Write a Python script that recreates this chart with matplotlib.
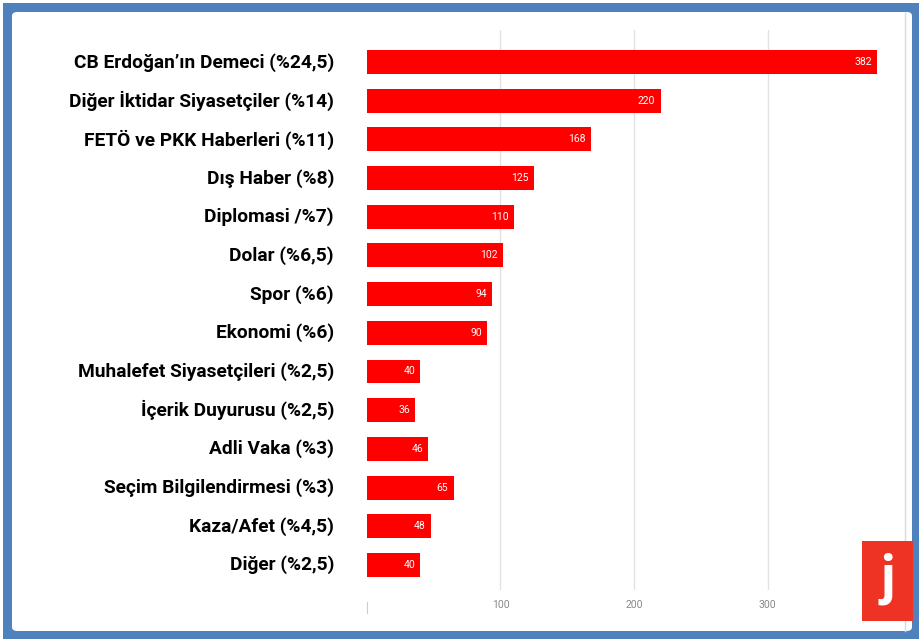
import matplotlib
matplotlib.use("Agg")
import matplotlib.pyplot as plt
from matplotlib.patches import Rectangle, FancyBboxPatch

categories = [
    "CB Erdoğan’ın Demeci (%24,5)",
    "Diğer İktidar Siyasetçiler (%14)",
    "FETÖ ve PKK Haberleri (%11)",
    "Dış Haber (%8)",
    "Diplomasi /%7)",
    "Dolar (%6,5)",
    "Spor (%6)",
    "Ekonomi (%6)",
    "Muhalefet Siyasetçileri (%2,5)",
    "İçerik Duyurusu (%2,5)",
    "Adli Vaka (%3)",
    "Seçim Bilgilendirmesi (%3)",
    "Kaza/Afet (%4,5)",
    "Diğer (%2,5)",
]
values = [382, 220, 168, 125, 110, 102, 94, 90, 40, 36, 46, 65, 48, 40]
xticks = [0, 100, 200, 300]
xtick_labels = ["", "100", "200", "300"]

W, H = 920, 639
fig = plt.figure(figsize=(W / 100, H / 100), dpi=100)
fig.patch.set_facecolor("white")

def fx(px):
    return px / W

def fy(py):
    return 1 - py / H

# blue frame with white rounded panel
frame_blue = "#4f81bd"
fig.patches.append(Rectangle((fx(3), fy(639)), fx(917), 636 / H,
                             transform=fig.transFigure, facecolor=frame_blue,
                             edgecolor="none", zorder=0))
fig.patches.append(FancyBboxPatch((fx(12), fy(631)), fx(900), 619 / H,
                                  boxstyle="round,pad=0,rounding_size=0.006",
                                  transform=fig.transFigure, facecolor="white",
                                  edgecolor="none", zorder=1))
# right edge line of the chart panel
fig.lines.append(plt.Line2D([fx(905), fx(905)], [fy(631), fy(12)],
                            transform=fig.transFigure, color="#d6dbe3", lw=1, zorder=2))

ax_left, ax_right = 367, 901
ax_top, ax_bottom = 30, 590
ax = fig.add_axes([fx(ax_left), fy(ax_bottom), (ax_right - ax_left) / W,
                   (ax_bottom - ax_top) / H])
ax.set_facecolor("none")
ax.set_zorder(3)

n = len(categories)
ypos = list(range(n))
bar_color = "#ff0000"
ax.barh(ypos, values, height=0.62, color=bar_color, edgecolor="none", zorder=3)
ax.set_xlim(0, 400)
ax.set_ylim(13.65, -0.83)

for x in xticks[1:]:
    ax.axvline(x, color="#e2e2e2", lw=1, zorder=1)

label_font = ["Roboto", "DejaVu Sans"]
for y, v in zip(ypos, values):
    ax.text(v - 4, y, str(v), ha="right", va="center", color="white",
            fontsize=7.5, family=label_font, zorder=4)

# category labels, right-aligned a little left of the axis
label_x = -(367 - 334) / (534 / 400)
for y, c in zip(ypos, categories):
    ax.text(label_x, y, c, ha="right", va="center", color="black", fontsize=13.8,
            fontweight="bold", family=label_font, zorder=4, clip_on=False)

ax.set_xticks(xticks)
ax.set_xticklabels(xtick_labels, fontsize=7.5, color="#888888", family=label_font)
ax.tick_params(axis="x", length=0, pad=7)
ax.set_yticks([])
for s in ax.spines.values():
    s.set_visible(False)
# faint zero marker under the axis
ax.plot([0, 0], [13.95, 14.25], color="#cccccc", lw=0.8, clip_on=False, zorder=2)

# logo
lx0, ly0, lx1, ly1 = 862, 541, 913, 621
fig.patches.append(Rectangle((fx(lx0), fy(ly1)), fx(lx1 - lx0), (ly1 - ly0) / H,
                             transform=fig.transFigure, facecolor="#ee3224",
                             edgecolor="none", zorder=5))
fig.text(fx((lx0 + lx1) / 2), fy((ly0 + ly1) / 2 - 2), "j", ha="center", va="center",
         color="white", fontsize=40, fontweight="bold", family=["Roboto", "DejaVu Sans"],
         zorder=6)

fig.savefig("out.png", dpi=100, facecolor="white")
